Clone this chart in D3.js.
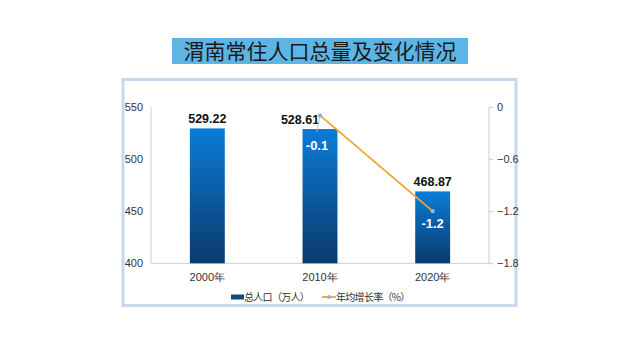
<!DOCTYPE html>
<html><head><meta charset="utf-8">
<script src="https://cdn.jsdelivr.net/npm/d3@7"></script>
<style>body{margin:0;background:#fff;}svg{display:block;font-family:"Liberation Sans",Arial,"Noto Sans CJK SC",sans-serif;}</style>
</head><body>
<svg id="c" width="640" height="360"></svg>
<script>
const title = "渭南常住人口总量及变化情况";
const categories = ["2000年","2010年","2020年"];
const population = [529.22, 528.61, 468.87];
const growth = [null, -0.1, -1.2];
const growthLabels = ["", "-0.1", "-1.2"];
const leftTicks = [400,450,500,550];
const rightTicks = [0,-0.6,-1.2,-1.8];
const seriesNames = ["总人口（万人）","年均增长率（%）"];

const svg = d3.select("#c");
const defs = svg.append("defs");
const grad = defs.append("linearGradient").attr("id","bg").attr("x1",0).attr("y1",0).attr("x2",0).attr("y2",1);
grad.append("stop").attr("offset","0%").attr("stop-color","#0a7cd8");
grad.append("stop").attr("offset","100%").attr("stop-color","#0b3a6c");

// title
svg.append("rect").attr("x",172).attr("y",38).attr("width",296).attr("height",26).attr("fill","#5db5e6");
svg.append("text").attr("x",320).attr("y",58.5).attr("text-anchor","middle")
  .attr("font-family","'Noto Sans CJK SC',sans-serif").attr("font-size",21).attr("fill","#1a1a1a").text(title);

// frame
svg.append("rect").attr("x",123).attr("y",79.5).attr("width",393).attr("height",226)
  .attr("fill","#fff").attr("stroke","#c5d8ee").attr("stroke-width",3);

const L=151, R=489, T=106.7, B=263.3;
const x = d3.scaleBand().domain(categories).range([L,R]).paddingInner(0.69).paddingOuter(0.345);
const y = d3.scaleLinear().domain([400,550]).range([B,T]);
const y2 = d3.scaleLinear().domain([-1.8,0]).range([B,T]);

// axes lines
const axisColor="#c8cdd6";
svg.append("line").attr("x1",L).attr("x2",L).attr("y1",T).attr("y2",B).attr("stroke",axisColor);
svg.append("line").attr("x1",R).attr("x2",R).attr("y1",T).attr("y2",B).attr("stroke",axisColor);
svg.append("line").attr("x1",L).attr("x2",R+4).attr("y1",B).attr("y2",B).attr("stroke",axisColor);

const la = svg.append("g").attr("transform",`translate(${L-6},0)`)
  .call(d3.axisLeft(y).tickValues(leftTicks).tickSize(0).tickPadding(2));
la.select(".domain").remove();
la.selectAll("text").attr("font-size",11).attr("fill","#333");

const ra = svg.append("g").attr("transform",`translate(${R},0)`)
  .call(d3.axisRight(y2).tickValues(rightTicks).tickSize(4).tickPadding(4).tickFormat(d=>d===0?"0":d3.format(".1f")(d)));
ra.select(".domain").remove();
ra.selectAll("line").attr("stroke",axisColor);
ra.selectAll("text").attr("font-size",11).attr("fill","#333");

const xa = svg.append("g").attr("transform",`translate(0,${B})`)
  .call(d3.axisBottom(x).tickSize(0).tickPadding(10));
xa.select(".domain").remove();
xa.selectAll("text").attr("font-size",11).attr("fill","#333");

// bars
svg.selectAll("rect.bar").data(population).join("rect").attr("class","bar")
  .attr("x",(d,i)=>x(categories[i])).attr("width",x.bandwidth())
  .attr("y",d=>y(d)).attr("height",d=>B-y(d)).attr("fill","url(#bg)");

// bar labels
const labelDx=[0,-20,0];
svg.selectAll("text.bl").data(population).join("text").attr("class","bl")
  .attr("x",(d,i)=>x(categories[i])+x.bandwidth()/2+labelDx[i]).attr("y",(d,i)=>y(d)-5)
  .attr("text-anchor","middle").attr("font-size",12.5).attr("font-weight","bold").attr("fill","#111")
  .text(d=>d.toFixed(2));

// line
const pts = growth.map((g,i)=>g===null?null:[x(categories[i])+x.bandwidth()/2, y2(g)]).filter(p=>p);
svg.append("path").attr("d",d3.line()(pts)).attr("fill","none").attr("stroke","#eea52e").attr("stroke-width",1.8);

// leader line for -0.1
const c1 = x(categories[1])+x.bandwidth()/2;
svg.append("line").attr("x1",c1).attr("y1",y2(growth[1])).attr("x2",c1-3).attr("y2",y2(growth[1])+16)
  .attr("stroke","#b8c4d2").attr("stroke-width",1);

svg.selectAll("circle.pt").data(pts).join("circle").attr("class","pt")
  .attr("cx",d=>d[0]).attr("cy",d=>d[1]).attr("r",2.2).attr("fill","#8fb5d8");

// growth labels
const gOff=[0,35,17];
const gDx=[0,-3,0];
growth.forEach((d,i)=>{
  if(d===null) return;
  svg.append("text").attr("class","gl")
    .attr("x",x(categories[i])+x.bandwidth()/2+gDx[i]).attr("y",y2(d)+gOff[i])
    .attr("text-anchor","middle").attr("font-size",13).attr("font-weight","bold").attr("fill","#fff")
    .text(growthLabels[i]);
});

// legend
const ly=297;
const lf = "'Noto Sans CJK SC',sans-serif";
svg.append("rect").attr("x",231).attr("y",ly-2.5).attr("width",13).attr("height",5).attr("fill","#0b4a85");
svg.append("text").attr("x",244).attr("y",ly+4).attr("font-size",10).attr("letter-spacing",-0.7).attr("fill","#333")
  .attr("font-family",lf).text(seriesNames[0]);
svg.append("line").attr("x1",322).attr("x2",336).attr("y1",ly).attr("y2",ly).attr("stroke","#eea52e").attr("stroke-width",1.8);
svg.append("circle").attr("cx",329).attr("cy",ly).attr("r",2).attr("fill","#8fb5d8");
svg.append("text").attr("x",336).attr("y",ly+4).attr("font-size",10).attr("letter-spacing",-0.7).attr("fill","#333")
  .attr("font-family",lf).text(seriesNames[1]);
</script>
</body></html>
